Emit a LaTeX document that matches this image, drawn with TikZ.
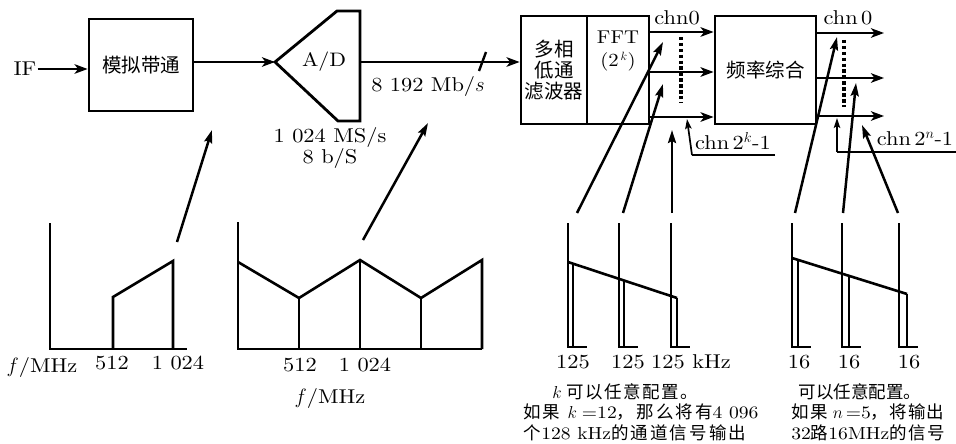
\documentclass[tikz,border=0pt]{standalone}
\usepackage{fontspec}
\setmainfont{lmroman10-regular.otf}[FakeStretch=1.12,ItalicFont=lmroman10-italic.otf,BoldFont=lmroman10-bold.otf]
\newfontfamily\cjk{Noto Sans CJK SC}
\newcommand\zh[1]{{\cjk #1}}
\newcommand\zhs[2]{{\cjk\addfontfeature{LetterSpace=#1}#2}}
\usetikzlibrary{arrows.meta}
\tikzset{
  blk/.style={draw,line width=2.8pt,inner sep=0pt,font=\cjk\fontsize{19.5}{21}\selectfont},
  txt/.style={inner sep=1pt,font=\fontsize{20}{21}\selectfont},
  captxt/.style={inner sep=1pt,font=\fontsize{17.5}{17.5}\selectfont},
  arr/.style={line width=2.6pt,-{Stealth[length=13pt,width=9.5pt,inset=3.5pt]}},
  larr/.style={line width=2.5pt,-{Stealth[length=13pt,width=8pt,inset=2pt]}},
  sarr/.style={line width=1.7pt,-{Stealth[length=10pt,width=6.5pt,inset=2pt]}},
  spec/.style={line width=2.6pt,line join=miter},
  bar/.style={line width=2.2pt},
  dots/.style={line width=3.8pt,dash pattern=on 3.5pt off 2.4pt},
}
\begin{document}
\begin{tikzpicture}[x=1pt,y=-1pt]
\useasboundingbox (0,0) rectangle (956,444);
% --- input stage
\node[txt] (if) at (25,69) {IF};
\node[blk,minimum width=104pt,minimum height=92pt] (bp) at (141,65) {模拟带通};
\draw[arr] (if.east) -- (if.east -| bp.west);
% --- A/D
\coordinate (adin) at (275,62);
\coordinate (adout) at (360,62);
\draw[line width=2.8pt,line join=miter] (adin) -- (337,11) -- (360,11) -- (360,121) -- (338,121) -- cycle;
\node[txt,font=\fontsize{19.5}{21}\selectfont] (ad) at (324,62) {A/D};
\draw[arr] (bp.east |- adin) -- (adin);
\node[txt] (rate) at (428,87) {8 192 Mb/$s$};
\node[txt,align=center] (samp) at (330,147.5) {1 024 MS/s\\8 b/S};
% --- polyphase + FFT
\node[blk,minimum width=66pt,minimum height=108pt,align=center] (poly) at (554,70) {多相\\低通\\滤波器};
\node[blk,minimum width=62pt,minimum height=108pt] (fft) at (618,70) {};
\node[txt,align=center,font=\fontsize{18.5}{23}\selectfont] (fftt) at (618,51.5) {FFT\\(2$^{\,k}$)};
\draw[arr] (adout) -- (poly.west |- adout);
\coordinate (sl1) at (479,71);
\coordinate (sl2) at (486,52);
\draw[line width=2.4pt] (sl1) -- (sl2);
% --- synthesis
\node[blk,minimum width=101pt,minimum height=108pt] (syn) at (765.5,70) {频率综合};
\foreach \yy in {32,72,117} \draw[arr] (fft.east |- 0,\yy) -- (syn.west |- 0,\yy);
\coordinate (o1) at (884,33);
\coordinate (o2) at (884,78);
\coordinate (o3) at (884,116);
\foreach \k in {1,2,3} \draw[arr] (syn.east |- o\k) -- (o\k);
\node[txt] (c0a) at (677,18) {chn0};
\node[txt] (c0b) at (848,18) {chn\,0};
\draw[dots] (681,37) -- (681,102);
\draw[dots] (844,40) -- (844,107);
% --- leaders
\coordinate (lk1) at (692,155);
\coordinate (lk2) at (775,155);
\coordinate (lktip) at (687,119);
\draw[line width=1.7pt] (lk2) -- (lk1);
\draw[sarr] (lk1) -- (lktip);
\node[txt] (ck) at (733,141) {chn\,2$^k$-1};
\coordinate (ln1) at (837,152);
\coordinate (ln2) at (956,152);
\coordinate (lntip) at (837,118);
\draw[line width=1.7pt] (ln2) -- (ln1);
\draw[sarr] (ln1) -- (lntip);
\node[txt] (cn) at (915,139) {chn\,2$^n$-1};
% --- long arrows
\coordinate (s1a) at (177,242); \coordinate (s1b) at (212,130);
\coordinate (s2a) at (363,240); \coordinate (s2b) at (428,123);
\draw[larr] (s1a) -- (s1b);
\draw[larr] (s2a) -- (s2b);
\coordinate (a1a) at (577,213); \coordinate (a1b) at (663,42);
\coordinate (a2a) at (623,213); \coordinate (a2b) at (663,84);
\coordinate (a3a) at (672,213); \coordinate (a3b) at (672,130);
\coordinate (b1a) at (795,213); \coordinate (b1b) at (837,37);
\coordinate (b2a) at (843,213); \coordinate (b2b) at (856,83);
\coordinate (b3a) at (898,213); \coordinate (b3b) at (862,125);
\foreach \p in {a1,a2,a3,b1,b2,b3} \draw[larr] (\p a) -- (\p b);
% --- spectrum 1
\draw[spec] (50,223) -- (50,349) -- (187,349);
\draw[spec] (113,349) -- (113,297) -- (173,261) -- (173,349);
\node[txt] (f1) at (42,367) {$f$/MHz};
\node[txt] (f1a) at (112,363) {512};
\node[txt] (f1b) at (178,363) {1 024};
% --- spectrum 2
\draw[spec] (238,222) -- (238,349) -- (482,349);
\draw[spec] (238,262) -- (299,298) -- (360,260) -- (421,298) -- (482,260) -- (482,349);
\draw[spec] (299,298) -- (299,349);
\draw[spec] (360,260) -- (360,349);
\draw[spec] (421,298) -- (421,349);
\node[txt] (f2a) at (300,365) {512};
\node[txt] (f2b) at (365,365) {1 024};
\node[txt] (f2) at (330,398) {$f$/MHz};
% --- channel spectra (left)
\foreach \x in {568,619,671} {
  \draw[bar] (\x,223) -- (\x,347) -- (\x+19,347);
}
\draw[spec] (568,262) -- (677,298);
\draw[bar] (573,263) -- (573,347);
\draw[bar] (624,280.5) -- (624,347);
\draw[bar] (677,298) -- (677,347);
\node[txt] (k1) at (573,362) {125};
\node[txt] (k2) at (628,362) {125};
\node[txt] (k3) at (691,362) {125 kHz};
% --- channel spectra (right)
\foreach \x in {792,842,899} {
  \draw[bar] (\x,223) -- (\x,347) -- (\x+19,347);
}
\draw[spec] (792,258) -- (907,294);
\draw[bar] (798,260) -- (798,347);
\draw[bar] (849,275.8) -- (849,347);
\draw[bar] (907,294) -- (907,347);
\node[txt] (m1) at (799,362) {16};
\node[txt] (m2) at (849,362) {16};
\node[txt] (m3) at (909,362) {16};
% --- captions
\node[captxt] (ca1) at (625,392) {$k$\;\zhs{8}{可以任意配置。}};
\node[captxt] (ca2) at (641,412) {\zhs{8}{如果}\;\,$k$\;=12\zhs{12}{，那么将有}4 096};
\node[captxt] (ca3) at (635,433) {\zh{个}128 kHz\zhs{12}{的通道信号输出}};
\node[captxt] (cb1) at (860,392) {\zh{可以任意配置。}};
\node[captxt] (cb2) at (868,412) {\zhs{6}{如果}\;$n$\,=5\zhs{6}{，将输出}};
\node[captxt] (cb3) at (868,433) {32\zh{路}16MHz\zhs{8}{的信号}};
\end{tikzpicture}
\end{document}
